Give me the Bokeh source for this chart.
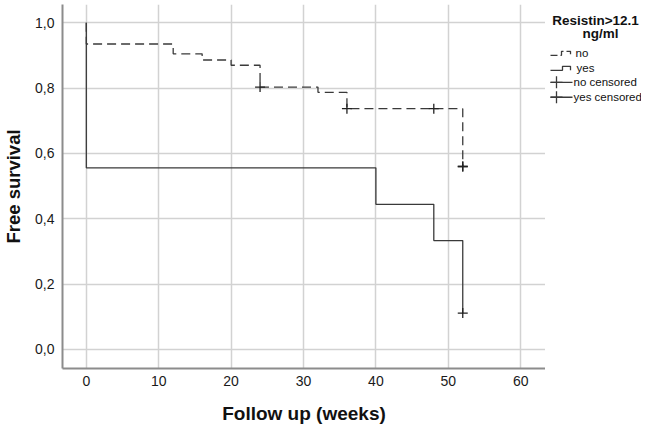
from bokeh.plotting import figure
from bokeh.layouts import row
from bokeh.models import Range1d, FixedTicker, CustomJSTickFormatter, Label
from bokeh.embed import file_html
from bokeh.resources import INLINE

# Data
no_times = [0, 0, 12, 16, 20, 24, 32, 36, 52]
no_surv = [1.0, 0.935, 0.905, 0.886, 0.870, 0.803, 0.787, 0.737, 0.560]
yes_times = [0, 0, 40, 48, 52]
yes_surv = [1.0, 0.556, 0.444, 0.333, 0.111]
no_cens_t = [24, 36, 48, 52, 52]
no_cens_s = [0.803, 0.737, 0.737, 0.560, 0.560]
yes_cens_t = [52]
yes_cens_s = [0.111]
x_ticks = [0, 10, 20, 30, 40, 50, 60]
y_ticks = [0.0, 0.2, 0.4, 0.6, 0.8, 1.0]
legend_title = ["Resistin>12.1", "ng/ml"]
legend_labels = ["no", "yes", "no censored", "yes censored"]

FONT = "Liberation Sans"
LINE = "#3a3a3a"
DASH = "9 5"
H = 426

p = figure(width=545, height=H, output_backend="svg", toolbar_location=None,
           x_range=Range1d(-3.29, 63.43), y_range=Range1d(-0.0586, 1.056),
           min_border_left=62, min_border_right=0, min_border_top=4, min_border_bottom=H - 369)
p.outline_line_color = None
p.background_fill_color = "white"

for ax in (p.xaxis, p.yaxis):
    ax.axis_line_color = "#8c8c8c"
    ax.axis_line_width = 2
    ax.major_tick_line_color = None
    ax.minor_tick_line_color = None
    ax.major_tick_out = 0
    ax.major_tick_in = 0
    ax.minor_tick_out = 0
    ax.minor_tick_in = 0
    ax.major_label_text_font = FONT
    ax.major_label_text_font_size = "14px"
    ax.major_label_text_color = "#1a1a1a"
    ax.axis_label_text_font = FONT
    ax.axis_label_text_font_style = "bold"
    ax.axis_label_text_color = "#111111"

p.xaxis.axis_label_text_font_size = "19px"
p.yaxis.axis_label_text_font_size = "18.5px"
p.xaxis.ticker = FixedTicker(ticks=x_ticks)
p.yaxis.ticker = FixedTicker(ticks=y_ticks)
p.yaxis.formatter = CustomJSTickFormatter(code="return tick.toFixed(1).replace('.', ',');")
p.xaxis.major_label_standoff = 7
p.yaxis.major_label_standoff = 8
p.xaxis.axis_label = "Follow up (weeks)"
p.yaxis.axis_label = "Free survival"
p.xaxis.axis_label_standoff = 14
p.yaxis.axis_label_standoff = 8

p.xgrid.grid_line_color = "#d2d2d2"
p.ygrid.grid_line_color = "#d2d2d2"
p.xgrid.grid_line_width = 1.5
p.ygrid.grid_line_width = 1.5

p.step(no_times, no_surv, mode="after", line_color=LINE, line_width=1.3, line_dash=DASH)
p.step(yes_times, yes_surv, mode="after", line_color=LINE, line_width=1.3)
p.scatter(no_cens_t, no_cens_s, marker="cross", size=10, line_color="#222222", line_width=1.3)
p.scatter(yes_cens_t, yes_cens_s, marker="cross", size=10, line_color="#222222", line_width=1.3)

# Side legend panel (coordinates = screen pixels, y downward); frame spans y 4..369
s = figure(width=96, height=H, output_backend="svg", toolbar_location=None,
           x_range=Range1d(545, 641), y_range=Range1d(369, 4),
           min_border_left=0, min_border_right=0, min_border_top=4, min_border_bottom=H - 369)
s.axis.visible = False
s.grid.visible = False
s.outline_line_color = None

s.add_layout(Label(x=595, y=20, text=legend_title[0], text_align="center", text_baseline="middle",
                   text_font=FONT, text_font_size="13.5px", text_font_style="bold", text_color="#111111"))
s.add_layout(Label(x=600, y=33, text=legend_title[1], text_align="center", text_baseline="middle",
                   text_font=FONT, text_font_size="13.5px", text_font_style="bold", text_color="#111111"))

item_y = [53, 68, 82, 97]
label_x = [575, 576, 573, 573]
for lbl, yy, lx in zip(legend_labels, item_y, label_x):
    s.add_layout(Label(x=lx, y=yy, text=lbl, text_align="left", text_baseline="middle",
                       text_font=FONT, text_font_size="11.5px", text_color="#111111"))

# icons
s.line([550, 561, 561, 570, 570], [item_y[0] + 2, item_y[0] + 2, item_y[0] - 2, item_y[0] - 2, item_y[0] + 1],
       line_color=LINE, line_width=1.3, line_dash="7 3")
s.line([550, 562, 562, 570, 570], [item_y[1] + 2, item_y[1] + 2, item_y[1] - 2, item_y[1] - 2, item_y[1] + 2],
       line_color=LINE, line_width=1.3)
for yy in item_y[2:]:
    s.line([550, 572], [yy, yy], line_color=LINE, line_width=1.3)
s.scatter([556, 556], item_y[2:], marker="cross", size=12, line_color=LINE, line_width=1.3)

layout = row(p, s)
open("out.html", "w").write(file_html(layout, INLINE))
